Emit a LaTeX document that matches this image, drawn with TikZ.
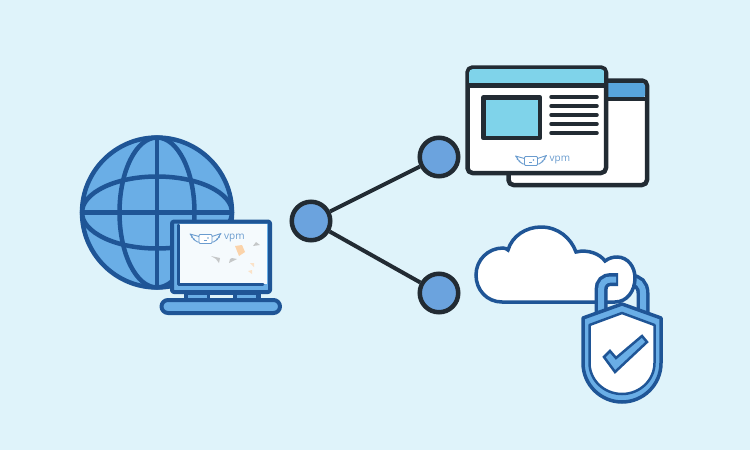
\documentclass[tikz,border=0pt]{standalone}
\usepackage{fontspec}
\setsansfont{Open Sans}
\definecolor{bgblue}{HTML}{DFF3FA}
\definecolor{darkblue}{HTML}{1F5596}
\definecolor{midblue}{HTML}{6AAEE6}
\definecolor{sharefill}{HTML}{6BA3DE}
\definecolor{inkdark}{HTML}{222B33}
\definecolor{titlelight}{HTML}{7FD3EA}
\definecolor{titlemid}{HTML}{58A5DC}
\definecolor{logoblue}{HTML}{6A9CCF}
\definecolor{screenwhite}{HTML}{F5FAFD}
\tikzset{
  shareball/.style={circle, draw=inkdark, line width=4.5pt, fill=sharefill, minimum size=38.5pt, inner sep=0pt},
  shareline/.style={draw=inkdark, line width=4pt},
  globeline/.style={draw=darkblue, line width=4.5pt},
  bluepart/.style={draw=darkblue, line width=4pt, line join=round},
  winpart/.style={draw=inkdark, line width=4.5pt, line join=round},
  speck/.style={fill=#1, draw=none, opacity=.6},
  wingline/.style={logoblue, line width=.9pt, line join=round},
  vpmlogo/.pic={
    \draw[wingline, fill=white, rounded corners=1pt] (-6.5,-4) rectangle (6.5,5);
    \draw[wingline] (-6.5,-2) -- (-15.5,-4.5) -- (-13,-1.5) -- (-14,-1.5) -- (-11,.8) -- (-12,.8) -- (-8,3.5) -- (-6.5,3.5);
    \draw[wingline] (6.5,-2) -- (15.5,-5) -- (13,-1.5) -- (14,-1.5) -- (11,.8) -- (12,.8) -- (8,3.5) -- (6.5,3.5);
    \draw[wingline] (-2,2) -- (1,2);
    \fill[logoblue] (2.5,-.5) circle (.8);
    \node[anchor=west, inner sep=0pt, text=logoblue, font=\sffamily\fontsize{10}{10}\selectfont] (-word) at (18.5,-.7) {vpm};
  }
}
\begin{document}
\begin{tikzpicture}[x=1pt, y=-1pt]
\useasboundingbox[fill=bgblue] (0,0) rectangle (750,450);
% globe
\fill[midblue] (157,212.5) circle (76);
\draw[globeline] (157,212.5) ellipse [x radius=37.5, y radius=75];
\draw[globeline] (157,212.5) ellipse [x radius=75, y radius=36];
\node[inner sep=0pt] (globetop) at (157,137){};
\node[inner sep=0pt] (globebot) at (157,288){};
\node[inner sep=0pt] (globeleft) at (81,212.5){};
\node[inner sep=0pt] (globeright) at (233,212.5){};
\draw[globeline](globetop) -- (globebot);
\draw[globeline](globeleft) -- (globeright);
\draw[globeline] (157,212.5) circle (75);
% laptop
\draw[bluepart, fill=darkblue] (186,291) rectangle (259,299);
\fill[midblue] (188,294.5) rectangle (207,297.5);
\fill[bgblue] (210,294.5) rectangle (233,297.5);
\fill[midblue] (237,294.5) rectangle (256,297.5);
\draw[bluepart, fill=midblue, rounded corners=2pt] (172,221.5) rectangle (270,292);
\fill[screenwhite] (178,224) rectangle (267,284);
\draw[darkblue, line width=3pt, line cap=round, line join=round] (178.5,225) -- (178.5,284) -- (263,284);
\pic (laptoplogo) at (205.5,238.5) {vpmlogo};
\fill[speck=gray!70] (211,256) -- (220,258) -- (219,263) -- (216,259) -- cycle;
\fill[speck=gray!70] (229,263) -- (237,259) -- (232,258) -- (230,259) -- cycle;
\fill[speck=gray!70] (253,246) -- (256,242) -- (260,245) -- cycle;
\fill[speck=orange!55] (235,246) -- (242,245) -- (245,252) -- (239,256) -- cycle;
\fill[speck=orange!35] (250,263) -- (254,263) -- (254,267) -- cycle;
\fill[speck=orange!35] (248,271) -- (252,270) -- (252,274) -- cycle;
\draw[bluepart, fill=midblue, rounded corners=6.5pt] (161.5,300) rectangle (280,313);
% share
\node[shareball] (hub) at (311,221){};
\node[shareball] (upper) at (439,157){};
\node[shareball] (lower) at (439,293){};
\draw[shareline](hub) -- (upper);
\draw[shareline](hub) -- (lower);
% back window
\draw[winpart, fill=white, rounded corners=5pt] (508.5,80.5) rectangle (647,185);
\fill[titlemid, rounded corners=3pt] (510,83) rectangle (645,98);
\draw[winpart] (508.5,99) -- (647,99);
% front window
\draw[winpart, fill=white, rounded corners=5pt] (467.5,67.5) rectangle (606,173);
\begin{scope}
\clip[rounded corners=4pt] (469,69) rectangle (604.5,200);
\fill[titlelight] (469,69) rectangle (604.5,85);
\end{scope}
\draw[winpart] (467.5,85.5) -- (606,85.5);
\draw[winpart, fill=titlelight] (483.5,97.5) rectangle (540,138);
\foreach \y in {97,106,115,124,133}
  \draw[inkdark, line width=3.5pt, line cap=round] (551,\y) -- (597,\y);
\pic (windowlogo) at (531,160.5) {vpmlogo};
% shackle back
\draw[darkblue, line width=13pt] (625,280) -- (630,280) .. controls (638,280) and (643,285) .. (643,293) -- (643,315);
\draw[midblue, line width=6pt] (625,280) -- (630,280) .. controls (638,280) and (643,285) .. (643,293) -- (643,315);
% cloud
\draw[darkblue, line width=3.5pt, fill=white] (502,302) .. controls (487,302) and (476,290) .. (476,275)
  .. controls (476,260) and (488,248) .. (503,248) .. controls (505,248) and (507,249) .. (508,250)
  .. controls (512,236) and (526,227) .. (541,227) .. controls (558,227) and (571,238) .. (576,252)
  .. controls (588,249) and (600,254) .. (605,261)
  .. controls (609,258) and (613,257) .. (617,257) .. controls (628,257) and (635,267) .. (635,278) .. controls (635,291) and (627,302) .. (615,302) -- cycle;
% shackle front
\draw[darkblue, line width=13pt] (601,315) -- (601,290) .. controls (601,283) and (605,279.5) .. (611,279.5) -- (618,279.5);
\draw[midblue, line width=6pt] (601,315) -- (601,290) .. controls (601,283) and (605,279.5) .. (611,279.5) -- (616,279.5);
% shield
\draw[darkblue, line width=3.5pt, fill=midblue, line join=round] (622,304) -- (661,318) -- (661,363) .. controls (661,385) and (643,402) .. (622,402)
  .. controls (601,402) and (583,385) .. (583,363) -- (583,318) -- cycle;
\draw[darkblue, line width=2.5pt, fill=white, line join=round] (622,313) -- (654.5,325) -- (654.5,363) .. controls (654.5,380) and (640,394) .. (622,394)
  .. controls (604,394) and (589.5,380) .. (589.5,363) -- (589.5,325) -- cycle;
\draw[darkblue, line width=2.5pt, fill=midblue, line join=miter] (604,357) -- (610,351) -- (616,358) -- (642,336) -- (647,342) -- (615,372) -- cycle;
\end{tikzpicture}
\end{document}
